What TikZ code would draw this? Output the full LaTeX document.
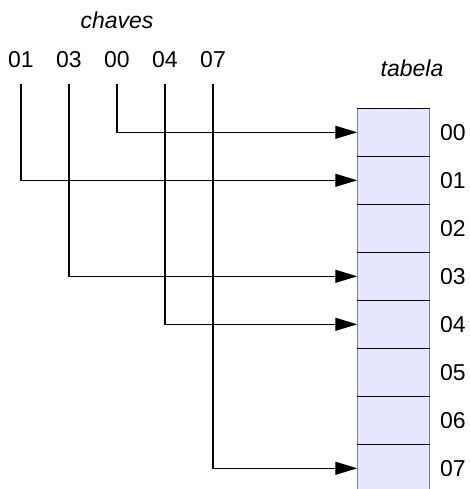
\documentclass[tikz,border=0pt]{standalone}
\usepackage{fontspec}
\setmainfont{Liberation Sans}
\usetikzlibrary{arrows.meta,positioning}
\definecolor{lavanda}{RGB}{230,230,255}

\tikzset{
  celula/.style={draw=gray, line width=1pt, fill=lavanda, minimum width=72.7pt, minimum height=48pt, inner sep=0pt, outer sep=0pt},
  chave/.style={inner sep=0pt},
  fluxo/.style={line width=1.4pt, -{Triangle[length=22pt,width=13pt]}, shorten <=15.5pt},
}

\begin{document}
\begin{tikzpicture}[x=1pt, y=-1pt, font=\fontsize{23}{27}\selectfont]
\useasboundingbox (0,0) rectangle (469,489);
\node[chave, font=\fontsize{23}{27}\selectfont\itshape] (chaves) at (117,20) {chaves};
\node[chave, font=\fontsize{23}{27}\selectfont\itshape] (tabela) at (412,68) {tabela};
\foreach \r [count=\i from 0] in {00,01,02,03,04,05,06,07}{
  \node[celula] (c\r) at (393.6,132.3+48*\i) {};
  \draw[line width=1pt] (c\r.north west) -- (c\r.north east);
  \node[chave, anchor=west, right=10pt of c\r] (n\r) {\r};
}
\foreach \k/\x in {01/21,03/69,00/117,04/165,07/213}
  \node[chave] (k\k) at (\x,60) {\k};
\foreach \k in {01,03,00,04,07}
  \draw[fluxo] (k\k) |- (c\k.west);
\end{tikzpicture}
\end{document}
